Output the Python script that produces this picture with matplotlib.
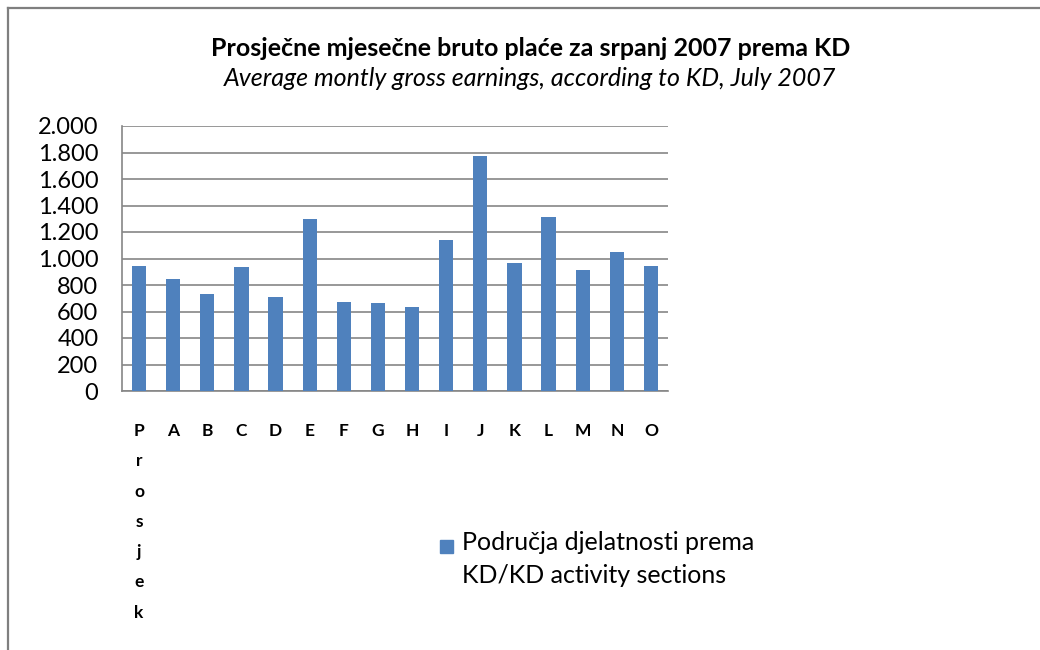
import matplotlib
matplotlib.use("Agg")
import matplotlib.pyplot as plt
from matplotlib.lines import Line2D
from matplotlib.patches import Rectangle
from matplotlib.ticker import FuncFormatter

# data
categories = ["P\nr\no\ns\nj\ne\nk", "A", "B", "C", "D", "E", "F", "G", "H",
              "I", "J", "K", "L", "M", "N", "O"]
earnings = [944, 846, 732, 937, 712, 1298, 674, 664, 631,
            1139, 1770, 965, 1313, 914, 1050, 944]
yticks = list(range(0, 2001, 200))

title = "Prosječne mjesečne bruto plaće za srpanj 2007 prema KD"
subtitle = "Average montly gross earnings, according to KD, July 2007"
series_label = "Područja djelatnosti prema\nKD/KD activity sections"

BAR_COLOR = "#4F81BD"
GRID_COLOR = "#868686"

plt.rcParams["font.family"] = ["Lato", "DejaVu Sans"]

W, H = 1040, 650
fig = plt.figure(figsize=(W / 100, H / 100), dpi=100)
fig.patch.set_facecolor("white")

# plot area in pixels: left 122, right 668, top 126, bottom 391
ax = fig.add_axes([122 / W, 1 - 391 / H, (668 - 122) / W, (391 - 126) / H])

x = range(len(categories))
bars = ax.bar(x, earnings, width=0.42, color=BAR_COLOR, zorder=3)

ax.set_xlim(-0.5, len(categories) - 0.5)
ax.set_ylim(0, 2000)
ax.set_yticks(yticks)
ax.yaxis.set_major_formatter(FuncFormatter(lambda v, p: f"{int(v):,}".replace(",", ".")))
ax.grid(axis="y", color=GRID_COLOR, linewidth=1.2, zorder=0)

for side in ["top", "right"]:
    ax.spines[side].set_visible(False)
for side in ["left", "bottom"]:
    ax.spines[side].set_color(GRID_COLOR)
    ax.spines[side].set_linewidth(1.2)

ax.tick_params(axis="y", length=0, labelsize=17, pad=17, colors="black")
ax.tick_params(axis="x", length=0, labelsize=12.5, pad=23)
ax.set_xticks(list(x))
ax.set_xticklabels(categories, fontweight="bold", va="top", linespacing=2.1)

fig.text(0.51, 1 - 48 / H, title, ha="center", va="center", fontsize=18, fontweight="bold")
fig.text(0.51, 1 - 78 / H, subtitle, ha="center", va="center", fontsize=18, style="italic")

# legend: square next to the first line of a two-line label
fig.add_artist(Rectangle((440 / W, 1 - 553 / H), 13 / W, 13 / H, color=BAR_COLOR,
                         transform=fig.transFigure))
fig.text(462 / W, 1 - 531 / H, series_label, ha="left", va="top", fontsize=18,
         linespacing=1.55)

# chart frame (only left and top edges visible)
fig.add_artist(Line2D([8 / W, 8 / W], [0, 1 - 8 / H], color="#7f7f7f", linewidth=1.6,
                      transform=fig.transFigure))
fig.add_artist(Line2D([8 / W, 1], [1 - 8 / H, 1 - 8 / H], color="#7f7f7f", linewidth=1.6,
                      transform=fig.transFigure))

fig.savefig("out.png", dpi=100)
